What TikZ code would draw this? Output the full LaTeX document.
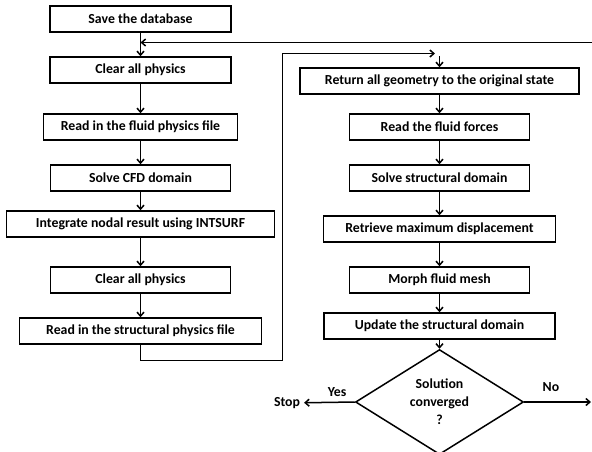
\documentclass[tikz,border=0pt]{standalone}
\usepackage{fontspec}
\setmainfont{Carlito}
\usepackage{tikz}
\usetikzlibrary{shapes.geometric,arrows.meta}

\begin{document}
\begin{tikzpicture}[x=1pt,y=-1pt,>={Straight Barb[length=4pt,width=7pt]},line width=1.5pt,
	every node/.style={font=\bfseries\fontsize{13.8}{18}\selectfont},
	box/.style={rectangle,draw,minimum height=26pt,inner sep=0pt}]
	\useasboundingbox (0,0) rectangle (592,451);

	% left column
	\node[box,minimum width=181pt] (SD)  at (140.5,19)  {Save the database};
	\node[box,minimum width=181pt] (CP1) at (140.5,70)  {Clear all physics};
	\node[box,minimum width=194pt] (RFP) at (140.5,127) {Read in the fluid physics file};
	\node[box,minimum width=180pt] (CFD) at (140.5,178) {Solve CFD domain};
	\node[box,minimum width=268pt] (INT) at (140.5,224) {Integrate nodal result using INTSURF};
	\node[box,minimum width=180pt] (CP2) at (140.5,280) {Clear all physics};
	\node[box,minimum width=242pt] (RSP) at (140.5,331) {Read in the structural physics file};

	% right column
	\node[box,minimum width=279pt] (RG)  at (439.5,81)  {Return all geometry to the original state};
	\node[box,minimum width=180pt] (RFF) at (439.5,127) {Read the fluid forces};
	\node[box,minimum width=180pt] (SSD) at (439.5,178) {Solve structural domain};
	\node[box,minimum width=232pt] (RMD) at (439.5,229) {Retrieve maximum displacement};
	\node[box,minimum width=180pt] (MFM) at (439.5,280) {Morph fluid mesh};
	\node[box,minimum width=231pt] (UPD) at (439.5,326) {Update the structural domain};
	\node[diamond,draw,minimum width=168pt,minimum height=92pt,inner sep=0pt,
		align=center] (SC) at (439.5,402) {Solution\\converged\\?};
	\node (ST) at (287,403) {Stop};

	\coordinate (TR) at (592,42.5);
	\coordinate (TL) at (140.5,42.5);
	\coordinate (LB) at (282.5,360.5);
	\coordinate (JR) at (435,53.5);
	\coordinate (JD) at (439.5,56);
	\coordinate (NO) at (591,402);

	\draw[->] (SD) -- (CP1);
	\draw[->] (TR) -- (TL);
	\draw[->] (CP1) -- (RFP);
	\draw[->] (RFP) -- (CFD);
	\draw[->] (CFD) -- (INT);
	\draw[->] (INT) -- (CP2);
	\draw[->] (CP2) -- (RSP);
	\draw[->] (RSP.south) |- (LB) |- (JR);
	\draw[->] (JD) -- (RG);
	\draw[->] (RG) -- (RFF);
	\draw[->] (RFF) -- (SSD);
	\draw[->] (SSD) -- (RMD);
	\draw[->] (RMD) -- (MFM);
	\draw[->] (MFM) -- (UPD);
	\draw[->] (UPD) -- (SC);
	\draw[->] (SC.west) -- node[above=2pt,pos=0.35] {Yes} (ST);
	\draw[->] (SC.east) -- node[above=6pt,pos=0.4] {No} (NO);
\end{tikzpicture}
\end{document}
